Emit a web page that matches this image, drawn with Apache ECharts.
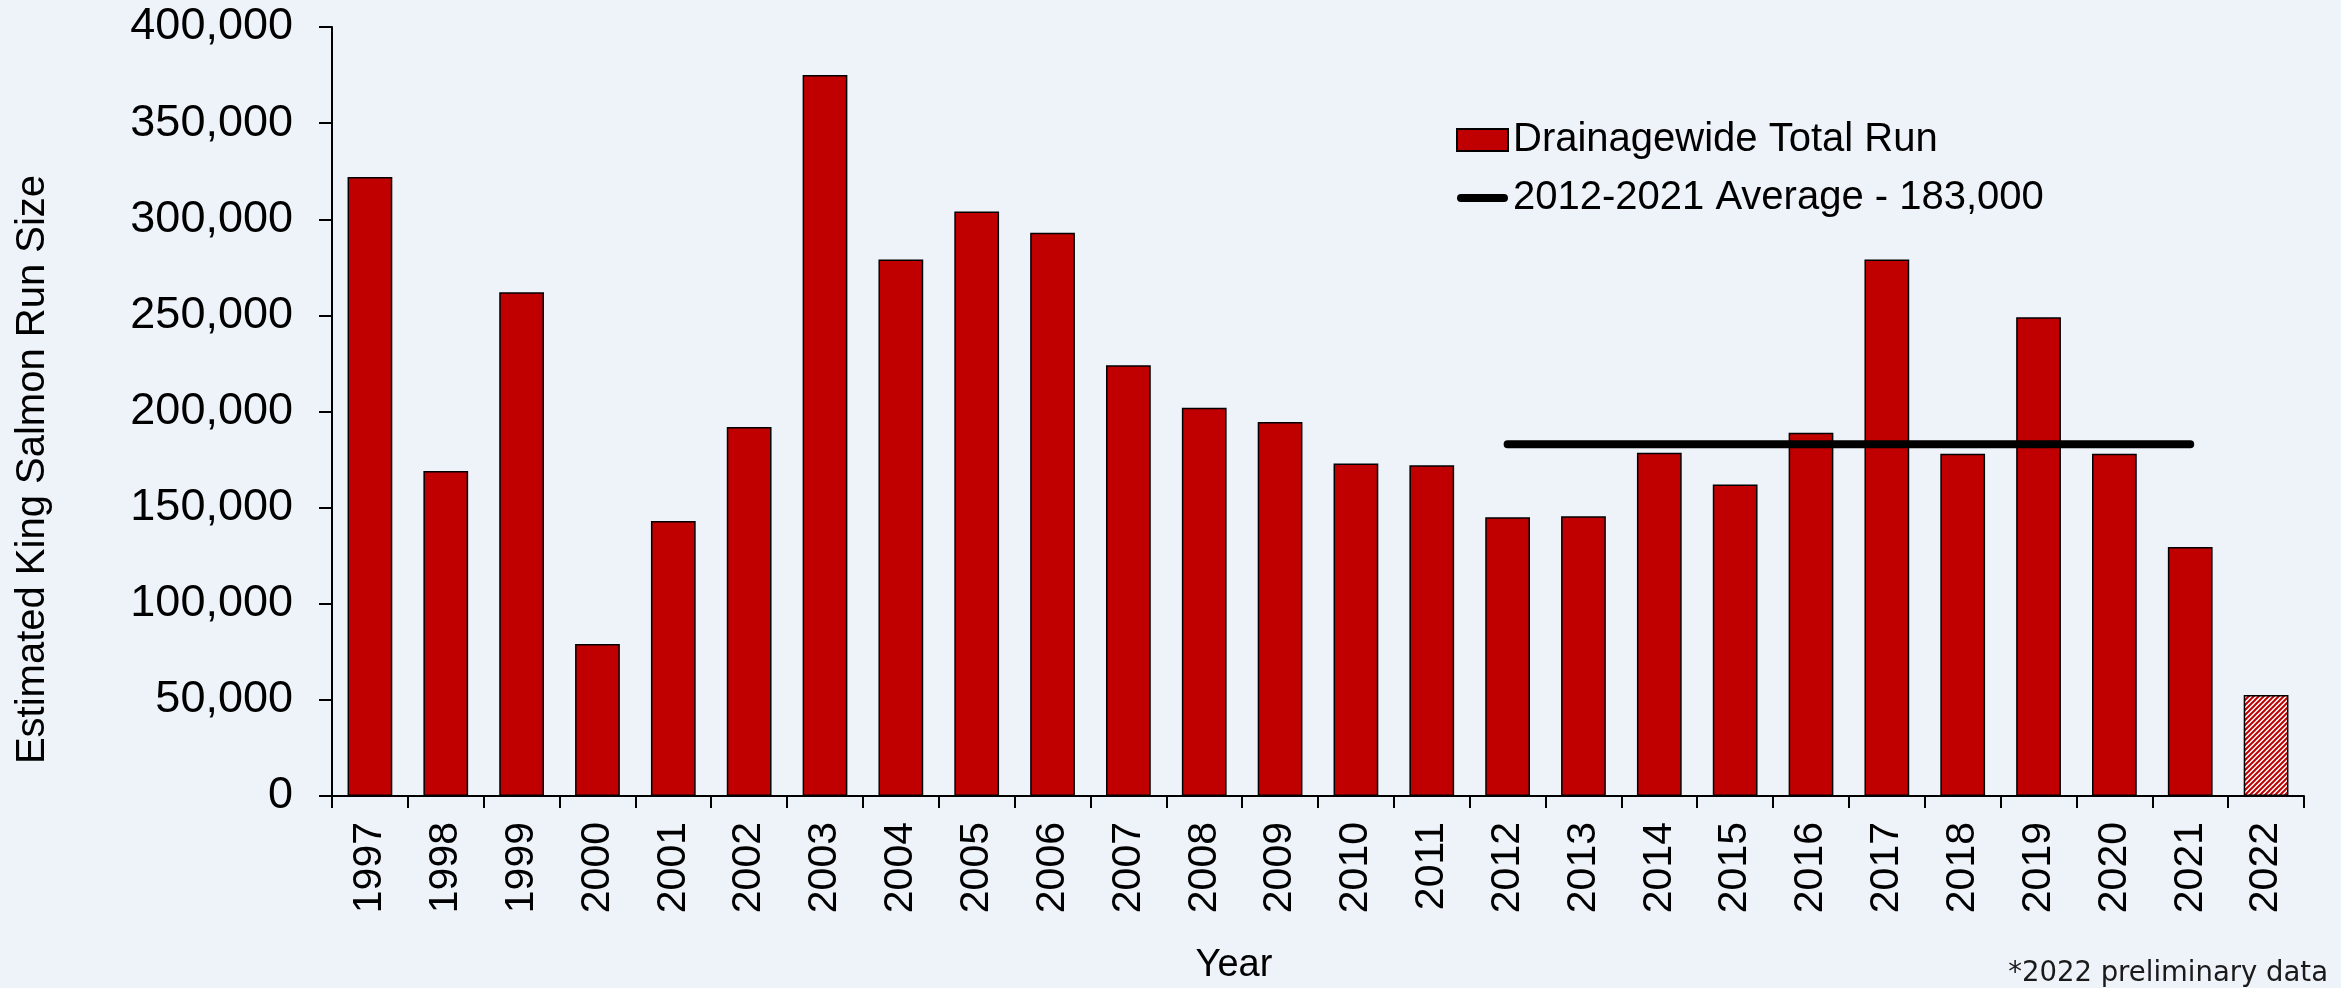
<!DOCTYPE html>
<html>
<head>
<meta charset="utf-8">
<script src="https://cdn.jsdelivr.net/npm/echarts@6/dist/echarts.min.js"></script>
<style>
html,body{margin:0;padding:0;background:#EEF2F9;}
#chart{width:2341px;height:988px;}
</style>
</head>
<body>
<div id="chart"></div>
<script>
const years = ['1997','1998','1999','2000','2001','2002','2003','2004','2005','2006','2007','2008','2009','2010','2011','2012','2013','2014','2015','2016','2017','2018','2019','2020','2021','2022'];
const totalRun = [322000,169000,262000,79000,143000,192000,375000,279000,304000,293000,224000,202000,194500,173000,172000,145000,145500,178500,162000,189000,279000,178000,249000,178000,129500,52500];
const preliminaryYear = '2022';
const avgLabel = '2012-2021 Average - 183,000';
const avgValue = 183000;
const avgStartYear = '2012';
const avgEndYear = '2021';
const yTicks = [0,50000,100000,150000,200000,250000,300000,350000,400000];

function stripePattern() {
  const s = 5;
  const c = document.createElement('canvas');
  c.width = s; c.height = s;
  const g = c.getContext('2d');
  g.fillStyle = '#ffffff';
  g.fillRect(0,0,s,s);
  g.strokeStyle = '#C00000';
  g.lineWidth = 2;
  g.beginPath();
  g.moveTo(-1, s+1); g.lineTo(s+1, -1);
  g.moveTo(-1, 1); g.lineTo(1, -1);
  g.moveTo(s-1, s+1); g.lineTo(s+1, s-1);
  g.stroke();
  return c;
}

const barData = years.map((y, i) => {
  if (y === preliminaryYear) {
    return { value: totalRun[i], itemStyle: { color: { image: stripePattern(), repeat: 'repeat' } } };
  }
  return totalRun[i];
});
const si = years.indexOf(avgStartYear), ei = years.indexOf(avgEndYear);
const avgData = years.map((y, i) => (i >= si && i <= ei) ? avgValue : null);

const lineIcon = 'path://M0,0L0,0ZM0,22L0,22ZM4,7L47,7A4,4 0 0 1 47,15L4,15A4,4 0 0 1 4,7Z';

const chart = echarts.init(document.getElementById('chart'), null, { renderer: 'canvas' });
const FONT = '"Liberation Sans", Arial, sans-serif';
chart.setOption({
  backgroundColor: '#EEF2F9',
  animation: false,
  textStyle: { fontFamily: FONT, color: '#000' },
  title: {
    text: '*2022 preliminary data',
    right: 8,
    top: 955,
    textStyle: { fontFamily: '"DejaVu Sans", sans-serif', fontWeight: 'normal', fontSize: 27.5, color: '#1a1a1a' }
  },
  legend: {
    orient: 'vertical',
    left: 1451,
    top: 115,
    itemWidth: 51,
    itemHeight: 22,
    itemGap: 18,
    textStyle: { fontFamily: FONT, fontSize: 40, color: '#000', lineHeight: 40 },
    data: [
      { name: 'Drainagewide Total Run', icon: 'rect' },
      { name: avgLabel, icon: lineIcon, itemStyle: { color: '#000', borderWidth: 0 } }
    ]
  },
  grid: { left: 332, right: 37, top: 27, bottom: 192, containLabel: false, outerBoundsMode: 'none' },
  xAxis: {
    type: 'category',
    data: years,
    name: 'Year',
    nameLocation: 'middle',
    nameGap: 151,
    nameTextStyle: { fontFamily: FONT, fontSize: 38, color: '#000', padding: [0, 168, 0, 0] },
    axisLine: { lineStyle: { color: '#000', width: 2 } },
    axisTick: { show: true, length: 12, lineStyle: { color: '#000', width: 2 } },
    axisLabel: { rotate: 90, margin: 26, fontSize: 41, color: '#000', fontFamily: FONT, interval: 0 }
  },
  yAxis: {
    type: 'value',
    min: 0,
    max: yTicks[yTicks.length - 1],
    interval: yTicks[1] - yTicks[0],
    name: 'Estimated King Salmon Run Size',
    nameLocation: 'middle',
    nameGap: 279,
    nameRotate: 90,
    nameTextStyle: { fontFamily: FONT, fontSize: 40, color: '#000', padding: [0, 116, 0, 0] },
    axisLine: { show: true, lineStyle: { color: '#000', width: 2 } },
    axisTick: { show: true, length: 13, lineStyle: { color: '#000', width: 2 } },
    splitLine: { show: false },
    axisLabel: { margin: 39, fontSize: 45, color: '#000', fontFamily: FONT,
      formatter: v => v.toLocaleString('en-US') }
  },
  series: [
    {
      name: 'Drainagewide Total Run',
      type: 'bar',
      data: barData,
      barCategoryGap: '41%',
      itemStyle: { color: '#C00000', borderColor: '#000', borderWidth: 1.5 }
    },
    {
      name: avgLabel,
      type: 'line',
      data: avgData,
      symbol: 'none',
      connectNulls: false,
      itemStyle: { color: '#000' },
      lineStyle: { color: '#000', width: 8, cap: 'round' },
      z: 5
    }
  ]
});
</script>
</body>
</html>
